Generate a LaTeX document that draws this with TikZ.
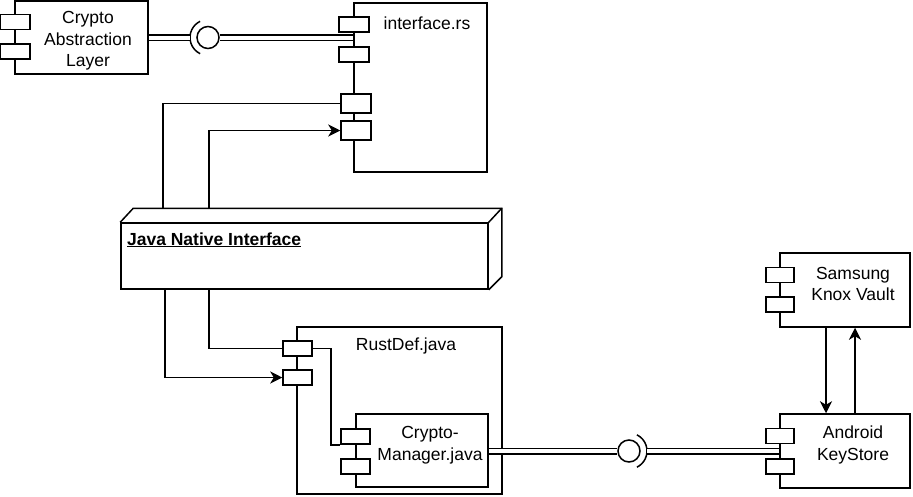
\documentclass[tikz,border=0pt]{standalone}
\usepackage{fontspec}
\setmainfont{Liberation Sans}
\usetikzlibrary{arrows.meta}
\begin{document}
\begin{tikzpicture}[x=1pt, y=-1pt, line width=1.5pt,
    every node/.style={font=\fontsize{17.5}{21.5}\selectfont, align=center},
    comp/.style={draw, rectangle, inner sep=0pt},
    port/.style={draw, fill=white, rectangle, inner sep=0pt, minimum width=29pt, minimum height=15pt},
    ball/.style={draw, circle, inner sep=0pt, minimum size=22pt},
    link/.style={double, double distance=4pt},
    arr/.style={-{Stealth[length=12pt, width=12pt, inset=3.5pt]}}]
    \useasboundingbox (0,0) rectangle (913,496);
    % Crypto Abstraction Layer
    \node[comp, minimum width=133pt, minimum height=73pt] (cal) at (81.5,37.5) {};
    \node (cal-txt) at (88,41) {Crypto\\Abstraction\\Layer};
    \node[port, minimum width=30pt] (cal-p1) at (15,22) {}; \node[port, minimum width=30pt] (cal-p2) at (15,51.5) {};
    % interface.rs
    \node[comp, minimum width=133pt, minimum height=169pt] (iface) at (420.5,87.5) {};
    \node (if-txt) at (427,23) {interface.rs};
    \node[port, minimum width=30pt] (if-p1) at (354,24.5) {}; \node[port, minimum width=30pt] (if-p2) at (354,54.5) {};
    \node[port, minimum width=30pt, minimum height=19pt] (if-p3) at (356,103.5) {};
    \node[port, minimum width=30pt, minimum height=19pt] (if-p4) at (356,130.5) {};
    % ball and socket, top
    \node[ball] (ball1) at (208,37.5) {};
    \draw ([shift={(116:18)}]ball1.center) arc (116:244:18); % socket
    \coordinate (sock1) at ([xshift=-18pt]ball1.center);
    \draw[link] (cal.east) -- (sock1);
    \draw[link] (ball1.east) -- (ball1 -| iface.west);
    % Java Native Interface (3d box)
    \node[comp, minimum width=367pt, minimum height=66pt] (jni) at (304.5,256) {};
    \draw (jni.north west) -- ++(13,-14) -| ([xshift=13pt,yshift=13pt]jni.south east) -- (jni.south east);
    \draw (jni.north east) -- ++(13,-14);
    \node[anchor=base west] (jni-txt) at (123,245) {\underline{\textbf{Java Native Interface}}};
    \coordinate (jni-t1) at (163,209); \coordinate (jni-t2) at (209,209);
    \coordinate (jni-b1) at (165,289); \coordinate (jni-b2) at (209,289);
    % RustDef.java
    \node[comp, minimum width=205pt, minimum height=167pt] (rd) at (399.5,410.5) {};
    \node (rd-txt) at (406,346) {RustDef.java};
    \node[port] (rd-p1) at (297.5,348.5) {}; \node[port] (rd-p2) at (297.5,377.5) {};
    % Crypto-Manager.java
    \node[comp, minimum width=132pt, minimum height=73pt] (cm) at (422,450.5) {};
    \node (cm-txt) at (430,445) {Crypto-\\Manager.java};
    \node[port] (cm-p1) at (355.5,436.5) {}; \node[port] (cm-p2) at (355.5,466.5) {};
    % JNI connectors
    \draw (jni-t1) |- (if-p3.west);
    \draw[arr] (jni-t2) |- (if-p4.west);
    \draw (jni-b2) |- (rd-p1.west);
    \draw[arr] (jni-b1) |- (rd-p2.west);
    \draw (rd-p1.east) -- ++(18,0) |- (cm-p1.south west);
    % Samsung Knox Vault
    \node[comp, minimum width=130pt, minimum height=74pt] (knox) at (845,290) {};
    \node (knox-txt) at (853,284) {Samsung\\Knox Vault};
    \node[port, minimum width=28pt] (knox-p1) at (780,275) {}; \node[port, minimum width=28pt] (knox-p2) at (780,304.5) {};
    % Android KeyStore
    \node[comp, minimum width=130pt, minimum height=74pt] (aks) at (845,451) {};
    \node (aks-txt) at (853,445) {Android\\KeyStore};
    \node[port, minimum width=28pt] (aks-p1) at (780,436) {}; \node[port, minimum width=28pt] (aks-p2) at (780,466.5) {};
    \draw[arr] (knox.south -| 826,0) -- (aks.north -| 826,0);
    \draw[arr] (aks.north -| 855,0) -- (knox.south -| 855,0);
    % ball and socket, bottom
    \node[ball] (ball2) at (629,451) {};
    \draw ([shift={(-64:18)}]ball2.center) arc (-64:64:18); % socket
    \coordinate (sock2) at ([xshift=18pt]ball2.center);
    \draw[link] (cm.east |- ball2) -- (ball2.west);
    \draw[link] (sock2) -- (aks.west);
\end{tikzpicture}
\end{document}
